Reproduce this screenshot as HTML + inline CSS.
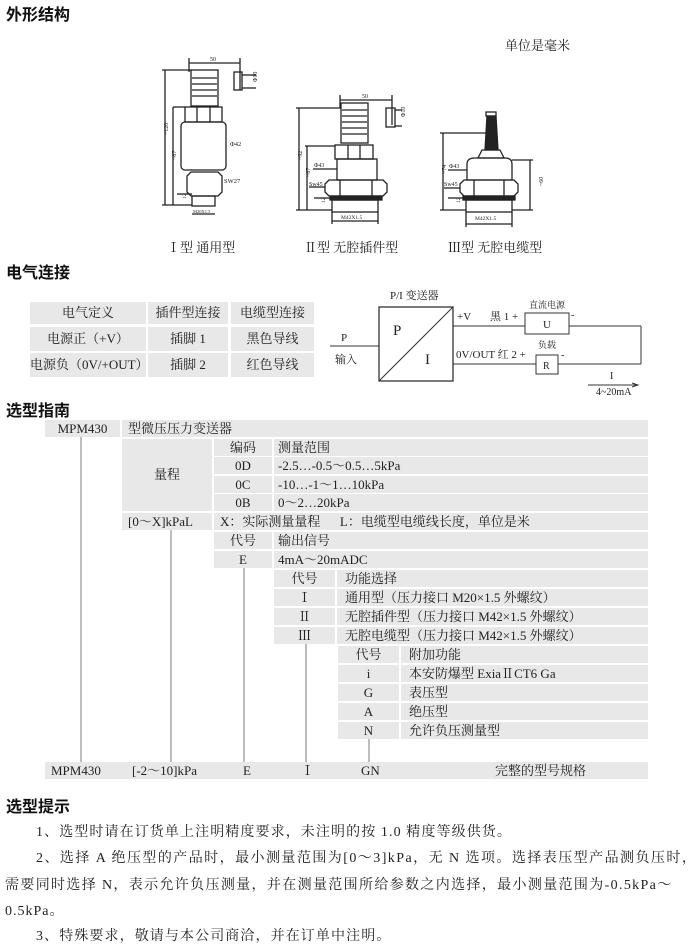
<!DOCTYPE html>
<html><head><meta charset="utf-8">
<style>
html,body{margin:0;padding:0;background:#fff;}
body{width:692px;height:947px;position:relative;overflow:hidden;font-family:"Liberation Serif","Noto Serif CJK SC",serif;color:#222;}
.a{position:absolute;white-space:nowrap;}
.h{font-family:"Liberation Sans","Noto Sans CJK SC",sans-serif;font-size:16px;font-weight:bold;color:#111;}
.c{position:absolute;background:#e8e8e8;font-size:13px;line-height:17px;height:17px;white-space:nowrap;}
.cc{text-align:center;}
.e{position:absolute;background:#e8e8e8;font-size:13px;text-align:center;}
.v{position:absolute;width:2px;background:#bdbdbd;}
.t{position:absolute;font-size:14px;white-space:nowrap;}
</style></head><body>

<div class="a h" style="left:6px;top:1px;">外形结构</div>
<div class="a" style="left:505px;top:35px;font-size:13px;">单位是毫米</div>

<svg class="a" style="left:0;top:0" width="692" height="260" viewBox="0 0 692 260" fill="none" stroke="#222" stroke-width="1.3">
 <!-- Type I -->
 <line x1="189" y1="63" x2="240" y2="63"/><line x1="189" y1="58" x2="189" y2="72"/><line x1="240" y1="58" x2="240" y2="90"/>
 <text x="210" y="61" font-size="6" fill="#222" stroke="none">50</text>
 <rect x="191" y="70" width="27" height="36"/>
 <line x1="192" y1="78" x2="217" y2="78"/><line x1="192" y1="84" x2="217" y2="84"/><line x1="192" y1="90" x2="217" y2="90"/><line x1="192" y1="96" x2="217" y2="96"/>
 <rect x="234" y="72" width="8" height="18"/><line x1="242" y1="75" x2="256" y2="75"/><line x1="242" y1="88" x2="256" y2="88"/>
 <text x="253" y="86" font-size="6" fill="#222" stroke="none" transform="rotate(-90 253 82)">Φ10</text>
 <rect x="185" y="107" width="37" height="15"/><line x1="197" y1="107" x2="197" y2="122"/><line x1="210" y1="107" x2="210" y2="122"/>
 <rect x="181" y="122" width="45" height="48" rx="4"/>
 <text x="230" y="146" font-size="6.5" fill="#222" stroke="none">Φ42</text>
 <path d="M187 176 L191 172 L218 172 L222 176 L222 192 L218 196 L191 196 L187 192 Z"/>
 <text x="224" y="183" font-size="6.5" fill="#222" stroke="none">SW27</text>
 <rect x="192" y="196" width="23" height="10"/>
 <line x1="192" y1="214" x2="215" y2="214"/>
 <text x="193" y="213" font-size="4.5" fill="#222" stroke="none">M20X1.5</text>
 <line x1="165" y1="70" x2="165" y2="205"/><line x1="162" y1="70" x2="191" y2="70"/><line x1="162" y1="205" x2="192" y2="205"/>
 <line x1="173" y1="107" x2="173" y2="205"/><line x1="173" y1="107" x2="185" y2="107"/>
 <line x1="177" y1="194" x2="192" y2="194"/>
 <text x="163" y="140" font-size="6" fill="#222" stroke="none" transform="rotate(-90 163 135)">~120</text>
 <text x="171" y="165" font-size="6" fill="#222" stroke="none" transform="rotate(-90 171 160)">~87</text>
 <text x="181" y="204" font-size="5.5" fill="#222" stroke="none" transform="rotate(-90 181 199)">12</text>

 <!-- Type II -->
 <line x1="340" y1="100" x2="392" y2="100"/><line x1="340" y1="95" x2="340" y2="108"/><line x1="392" y1="95" x2="392" y2="125"/>
 <text x="362" y="98" font-size="6" fill="#222" stroke="none">50</text>
 <rect x="341" y="103" width="27" height="40"/>
 <line x1="342" y1="110" x2="367" y2="110"/><line x1="342" y1="116" x2="367" y2="116"/><line x1="342" y1="122" x2="367" y2="122"/><line x1="342" y1="128" x2="367" y2="128"/><line x1="342" y1="134" x2="367" y2="134"/>
 <rect x="386" y="108" width="9" height="19"/><line x1="395" y1="110" x2="402" y2="110"/><line x1="395" y1="126" x2="402" y2="126"/>
 <text x="400" y="122" font-size="6" fill="#222" stroke="none" transform="rotate(-90 400 117)">Φ10</text>
 <rect x="335" y="145" width="38" height="14"/><line x1="348" y1="145" x2="348" y2="159"/><line x1="360" y1="145" x2="360" y2="159"/>
 <rect x="337" y="159" width="40" height="21"/>
 <path d="M325 184 L329 180 L383 180 L387 184 L387 192 L383 196 L329 196 L325 192 Z"/>
 <line x1="340" y1="180" x2="340" y2="196"/><line x1="372" y1="180" x2="372" y2="196"/>
 <rect x="330" y="196" width="52" height="4" fill="#222"/>
 <rect x="332" y="200" width="46" height="12"/>
 <line x1="332" y1="221" x2="378" y2="221"/><line x1="332" y1="212" x2="332" y2="224"/><line x1="378" y1="212" x2="378" y2="224"/>
 <text x="341" y="219" font-size="5.5" fill="#222" stroke="none">M42X1.5</text>
 <line x1="299" y1="108" x2="299" y2="210"/><line x1="296" y1="108" x2="341" y2="108"/><line x1="296" y1="210" x2="332" y2="210"/>
 <line x1="307" y1="146" x2="307" y2="210"/><line x1="305" y1="146" x2="335" y2="146"/>
 <line x1="313" y1="169" x2="337" y2="169"/><line x1="309" y1="187" x2="325" y2="187"/><line x1="314" y1="198" x2="330" y2="198"/>
 <text x="314" y="167" font-size="6" fill="#222" stroke="none">Φ43</text>
 <text x="309" y="186" font-size="6" fill="#222" stroke="none">Sw45</text>
 <text x="297" y="165" font-size="6" fill="#222" stroke="none" transform="rotate(-90 297 160)">~92</text>
 <text x="305" y="182" font-size="6" fill="#222" stroke="none" transform="rotate(-90 305 177)">~67</text>
 <text x="320" y="208" font-size="5.5" fill="#222" stroke="none" transform="rotate(-90 320 203)">12</text>

 <!-- Type III -->
 <rect x="486" y="112" width="10" height="4"/>
 <path d="M487 116 L496 116 L498 150 L485 150 Z" fill="#222"/>
 <path d="M482 150 L500 150 L504 158 L478 158 Z"/>
 <path d="M467 164 Q467 158 475 158 L505 158 Q512 158 512 164 L512 180 L467 180 Z"/>
 <path d="M460 184 L464 180 L514 180 L518 184 L518 192 L514 196 L464 196 L460 192 Z"/>
 <line x1="474" y1="180" x2="474" y2="196"/><line x1="504" y1="180" x2="504" y2="196"/>
 <rect x="463" y="196" width="52" height="4" fill="#222"/>
 <rect x="466" y="200" width="46" height="12"/>
 <line x1="466" y1="224" x2="512" y2="224"/><line x1="466" y1="212" x2="466" y2="227"/><line x1="512" y1="212" x2="512" y2="227"/>
 <text x="475" y="220" font-size="5.5" fill="#222" stroke="none">M42X1.5</text>
 <line x1="443" y1="133" x2="443" y2="210"/><line x1="440" y1="133" x2="486" y2="133"/><line x1="440" y1="210" x2="466" y2="210"/>
 <line x1="530" y1="160" x2="530" y2="210"/><line x1="512" y1="160" x2="533" y2="160"/><line x1="512" y1="210" x2="533" y2="210"/>
 <line x1="448" y1="170" x2="467" y2="170"/><line x1="444" y1="188" x2="460" y2="188"/><line x1="448" y1="198" x2="463" y2="198"/>
 <text x="449" y="168" font-size="6" fill="#222" stroke="none">Φ43</text>
 <text x="444" y="186" font-size="6" fill="#222" stroke="none">Sw45</text>
 <text x="441" y="179" font-size="6" fill="#222" stroke="none" transform="rotate(-90 441 174)">~74</text>
 <text x="538" y="191" font-size="6" fill="#222" stroke="none" transform="rotate(-90 538 186)">~60</text>
 <text x="455" y="208" font-size="5.5" fill="#222" stroke="none" transform="rotate(-90 455 203)">12</text>
</svg>

<div class="a" style="left:167px;top:237px;font-size:13px;">Ⅰ型 通用型</div>
<div class="a" style="left:304px;top:237px;font-size:13px;">Ⅱ型 无腔插件型</div>
<div class="a" style="left:448px;top:237px;font-size:13px;">Ⅲ型 无腔电缆型</div>

<div class="a h" style="left:6px;top:259px;">电气连接</div>

<div class="e" style="left:30px;top:302px;width:116px;height:22px;line-height:22px;">电气定义</div>
<div class="e" style="left:148px;top:302px;width:80px;height:22px;line-height:22px;">插件型连接</div>
<div class="e" style="left:231px;top:302px;width:83px;height:22px;line-height:22px;">电缆型连接</div>
<div class="e" style="left:30px;top:327px;width:116px;height:24px;line-height:24px;">电源正（+V）</div>
<div class="e" style="left:148px;top:327px;width:80px;height:24px;line-height:24px;">插脚 1</div>
<div class="e" style="left:231px;top:327px;width:83px;height:24px;line-height:24px;">黑色导线</div>
<div class="e" style="left:30px;top:353px;width:116px;height:24px;line-height:24px;">电源负（0V/+OUT）</div>
<div class="e" style="left:148px;top:353px;width:80px;height:24px;line-height:24px;">插脚 2</div>
<div class="e" style="left:231px;top:353px;width:83px;height:24px;line-height:24px;">红色导线</div>

<svg class="a" style="left:0;top:0" width="692" height="400" viewBox="0 0 692 400" fill="none" stroke="#333" stroke-width="1">
 <rect x="379" y="307" width="74" height="74" stroke-width="1.3"/>
 <line x1="379" y1="381" x2="453" y2="307"/>
 <line x1="330" y1="346" x2="379" y2="346"/>
 <line x1="453" y1="326" x2="525" y2="326"/>
 <rect x="525" y="313" width="44" height="21"/>
 <line x1="569" y1="326" x2="641" y2="326"/>
 <line x1="641" y1="326" x2="641" y2="364"/>
 <line x1="453" y1="364" x2="536" y2="364"/>
 <rect x="536" y="355" width="22" height="19"/>
 <line x1="558" y1="364" x2="641" y2="364"/>
 <line x1="588" y1="385" x2="638" y2="385"/>
 <path d="M632 383 L638 385 L632 387" />
 <g fill="#222" stroke="none" font-family="Liberation Serif, Noto Serif CJK SC, serif">
  <text x="390" y="299" font-size="11">P/I 变送器</text>
  <text x="393" y="335" font-size="15">P</text>
  <text x="425" y="364" font-size="15">I</text>
  <text x="341" y="341" font-size="11">P</text>
  <text x="335" y="363" font-size="11">输入</text>
  <text x="457" y="320" font-size="11">+V</text>
  <text x="490" y="320" font-size="11">黑  1 +</text>
  <text x="529" y="308" font-size="9">直流电源</text>
  <text x="571" y="318" font-size="10">-</text>
  <text x="543" y="328" font-size="11">U</text>
  <text x="456" y="358" font-size="11">0V/OUT 红  2 +</text>
  <text x="538" y="348" font-size="9">负载</text>
  <text x="561" y="358" font-size="10">-</text>
  <text x="543" y="369" font-size="10">R</text>
  <text x="610" y="379" font-size="10">I</text>
  <text x="596" y="395" font-size="10">4~20mA</text>
 </g>
</svg>

<div class="a h" style="left:6px;top:397px;">选型指南</div>

<div class="c cc" style="left:45px;top:420px;width:75px;">MPM430</div>
<div class="c" style="left:122px;top:420px;width:526px;padding-left:6px;box-sizing:border-box;">型微压压力变送器</div>
<div class="v" style="left:80px;top:437px;height:325px;"></div>

<div class="c cc" style="left:122px;top:439px;width:90px;height:72px;line-height:72px;">量程</div>
<div class="c cc" style="left:214px;top:439px;width:58px;">编码</div>
<div class="c" style="left:274px;top:439px;width:374px;padding-left:4px;box-sizing:border-box;">测量范围</div>
<div class="c cc" style="left:214px;top:457px;width:58px;">0D</div>
<div class="c" style="left:274px;top:457px;width:374px;padding-left:4px;box-sizing:border-box;">-2.5…-0.5～0.5…5kPa</div>
<div class="c cc" style="left:214px;top:476px;width:58px;">0C</div>
<div class="c" style="left:274px;top:476px;width:374px;padding-left:4px;box-sizing:border-box;">-10…-1～1…10kPa</div>
<div class="c cc" style="left:214px;top:494px;width:58px;">0B</div>
<div class="c" style="left:274px;top:494px;width:374px;padding-left:4px;box-sizing:border-box;">0～2…20kPa</div>

<div class="c" style="left:122px;top:513px;width:90px;padding-left:6px;box-sizing:border-box;">[0～X]kPaL</div>
<div class="c" style="left:214px;top:513px;width:434px;padding-left:6px;box-sizing:border-box;">X：实际测量量程&nbsp;&nbsp;&nbsp;&nbsp;&nbsp;&nbsp;L：电缆型电缆线长度，单位是米</div>
<div class="v" style="left:170px;top:530px;height:232px;"></div>

<div class="c cc" style="left:214px;top:532px;width:58px;">代号</div>
<div class="c" style="left:274px;top:532px;width:374px;padding-left:4px;box-sizing:border-box;">输出信号</div>
<div class="c cc" style="left:214px;top:551px;width:58px;">E</div>
<div class="c" style="left:274px;top:551px;width:374px;padding-left:4px;box-sizing:border-box;">4mA～20mADC</div>
<div class="v" style="left:243px;top:568px;height:194px;"></div>

<div class="c cc" style="left:274px;top:570px;width:61px;">代号</div>
<div class="c" style="left:337px;top:570px;width:311px;padding-left:8px;box-sizing:border-box;">功能选择</div>
<div class="c cc" style="left:274px;top:589px;width:61px;">Ⅰ</div>
<div class="c" style="left:337px;top:589px;width:311px;padding-left:8px;box-sizing:border-box;">通用型（压力接口 M20×1.5 外螺纹）</div>
<div class="c cc" style="left:274px;top:608px;width:61px;">Ⅱ</div>
<div class="c" style="left:337px;top:608px;width:311px;padding-left:8px;box-sizing:border-box;">无腔插件型（压力接口 M42×1.5 外螺纹）</div>
<div class="c cc" style="left:274px;top:627px;width:61px;">Ⅲ</div>
<div class="c" style="left:337px;top:627px;width:311px;padding-left:8px;box-sizing:border-box;">无腔电缆型（压力接口 M42×1.5 外螺纹）</div>
<div class="v" style="left:305px;top:644px;height:118px;"></div>

<div class="c cc" style="left:338px;top:646px;width:61px;">代号</div>
<div class="c" style="left:401px;top:646px;width:247px;padding-left:8px;box-sizing:border-box;">附加功能</div>
<div class="c cc" style="left:338px;top:665px;width:61px;">i</div>
<div class="c" style="left:401px;top:665px;width:247px;padding-left:8px;box-sizing:border-box;">本安防爆型 ExiaⅡCT6 Ga</div>
<div class="c cc" style="left:338px;top:684px;width:61px;">G</div>
<div class="c" style="left:401px;top:684px;width:247px;padding-left:8px;box-sizing:border-box;">表压型</div>
<div class="c cc" style="left:338px;top:703px;width:61px;">A</div>
<div class="c" style="left:401px;top:703px;width:247px;padding-left:8px;box-sizing:border-box;">绝压型</div>
<div class="c cc" style="left:338px;top:722px;width:61px;">N</div>
<div class="c" style="left:401px;top:722px;width:247px;padding-left:8px;box-sizing:border-box;">允许负压测量型</div>
<div class="v" style="left:368px;top:739px;height:23px;"></div>

<div class="c" style="left:45px;top:762px;width:603px;"></div>
<div class="a" style="left:51px;top:762px;font-size:13px;line-height:17px;">MPM430</div>
<div class="a" style="left:132px;top:762px;font-size:13px;line-height:17px;">[-2～10]kPa</div>
<div class="a" style="left:243px;top:762px;font-size:13px;line-height:17px;">E</div>
<div class="a" style="left:301px;top:762px;font-size:13px;line-height:17px;">Ⅰ</div>
<div class="a" style="left:361px;top:762px;font-size:13px;line-height:17px;">GN</div>
<div class="a" style="left:495px;top:762px;font-size:13px;line-height:17px;">完整的型号规格</div>

<div class="a h" style="left:6px;top:793px;">选型提示</div>
<div class="t" style="left:36px;top:821px;letter-spacing:1.1px;">1、选型时请在订货单上注明精度要求，未注明的按 1.0 精度等级供货。</div>
<div class="t" style="left:36px;top:847px;letter-spacing:1.45px;">2、选择 A 绝压型的产品时，最小测量范围为[0～3]kPa，无 N 选项。选择表压型产品测负压时，</div>
<div class="t" style="left:5px;top:874px;letter-spacing:1.35px;">需要同时选择 N，表示允许负压测量，并在测量范围所给参数之内选择，最小测量范围为-0.5kPa～</div>
<div class="t" style="left:5px;top:900px;letter-spacing:1px;">0.5kPa。</div>
<div class="t" style="left:36px;top:925px;letter-spacing:1.1px;">3、特殊要求，敬请与本公司商洽，并在订单中注明。</div>

</body></html>
